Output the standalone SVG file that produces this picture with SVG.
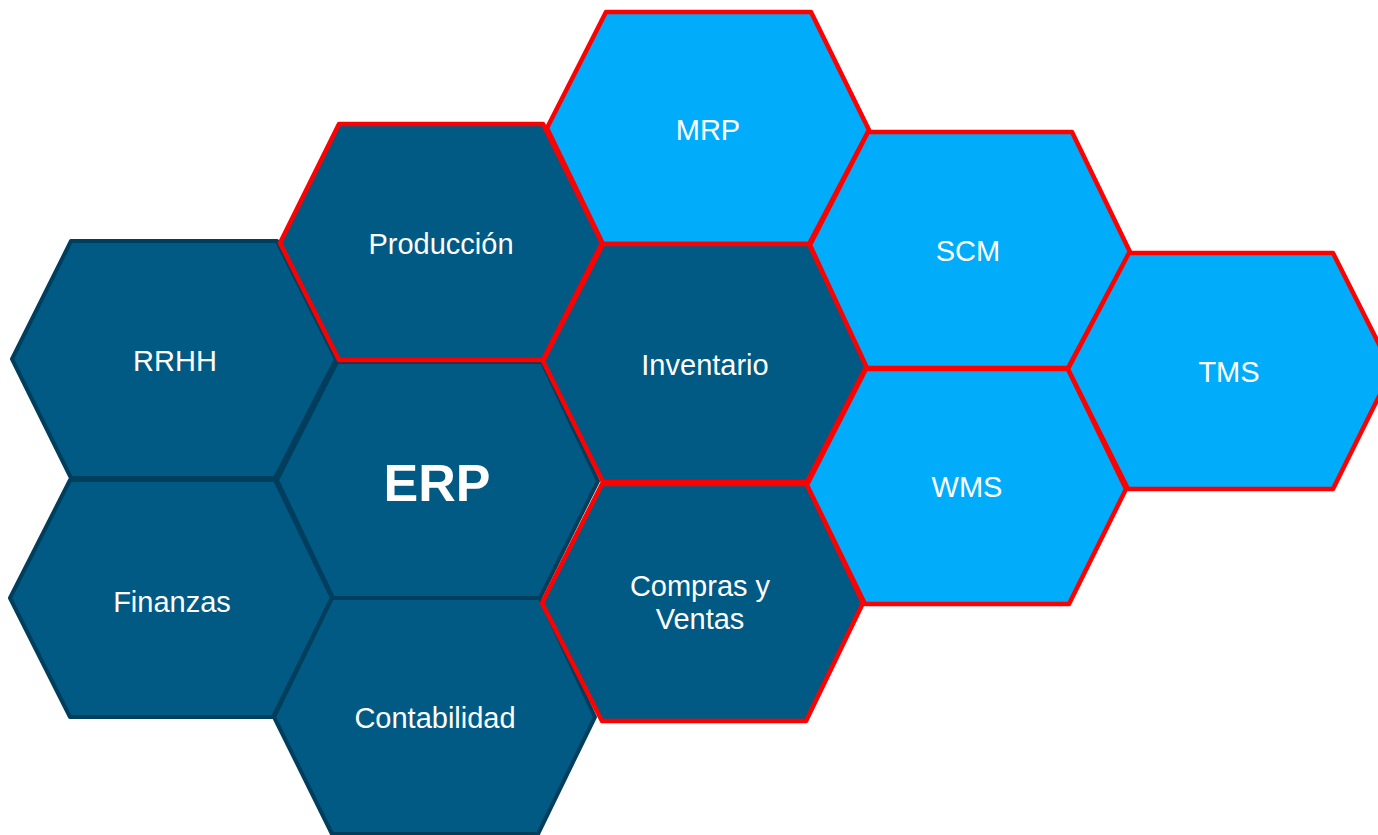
<svg xmlns="http://www.w3.org/2000/svg" width="1378" height="835" viewBox="0 0 1378 835">
<style>
.dk{fill:#015a84;stroke:#003e5d;stroke-width:4;stroke-linejoin:round}
.dr{fill:#015a84;stroke:#ff0000;stroke-width:4.5;stroke-linejoin:round}
.lr{fill:#01adfa;stroke:#ff0000;stroke-width:4.5;stroke-linejoin:round}
text{font-family:"Liberation Sans",Arial,sans-serif;font-size:29px;fill:#ffffff;text-anchor:middle}
.big{font-size:52px;font-weight:bold}
</style>
<rect width="1378" height="835" fill="#ffffff"/>
<g id="connectors"></g>
<g id="rrhh">
<polygon class="dk" points="71,241 277,241 336,359 275,478 71,478 12,359"/>
<text x="175" y="371">RRHH</text>
</g>
<g id="finanzas">
<polygon class="dk" points="70,480 275,480 332,598 273,717 70,717 10,598"/>
<text x="172" y="612">Finanzas</text>
</g>
<g id="erp">
<polygon class="dk" points="337,362 542,362 598,481 540,598 333,598 277,480"/>
<text class="big" x="437" y="501">ERP</text>
</g>
<g id="contabilidad">
<polygon class="dk" points="332,598 540,598 595,717 538,834 332,834 274,717"/>
<text x="435" y="728">Contabilidad</text>
</g>
<g id="produccion">
<polygon class="dr" points="339,124 543,124 602,243 543,360 339,360 280,243"/>
<text x="441" y="254">Producción</text>
</g>
<g id="mrp">
<polygon class="lr" points="606,12 811,12 869,130 809,244 603,244 547,128"/>
<text x="708" y="140">MRP</text>
</g>
<g id="inventario">
<polygon class="dr" points="603,244 809,244 867,365 807,482 603,482 543,361"/>
<text x="705" y="375">Inventario</text>
</g>
<g id="compras">
<polygon class="dr" points="602,484 807,484 863,603 806,721 602,721 542,603"/>
<text x="700" y="596">Compras y</text>
<text x="700" y="629">Ventas</text>
</g>
<g id="scm">
<polygon class="lr" points="868,132 1072,132 1130,252 1068,368 867,368 810,245"/>
<text x="968" y="261">SCM</text>
</g>
<g id="wms">
<polygon class="lr" points="866,369 1068,369 1126,489 1069,604 865,604 807,485"/>
<text x="967" y="497">WMS</text>
</g>
<g id="tms">
<polygon class="lr" points="1129,253 1333,253 1392,370 1333,489 1128,489 1068,369"/>
<text x="1229" y="382">TMS</text>
</g>
</svg>
